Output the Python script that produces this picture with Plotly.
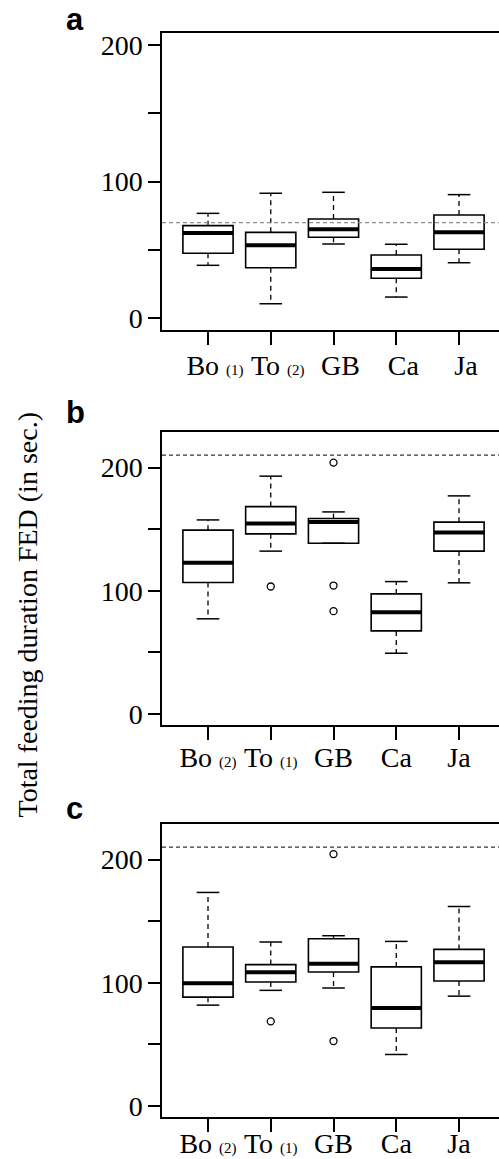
import plotly.graph_objects as go

# ---------------- data ----------------
positions = [1, 2, 3, 4, 5]
tick_labels_a = ["Bo <span style='font-size:15px'>(1)</span>",
                 "To <span style='font-size:15px'>(2)</span>", "GB", "Ca", "Ja"]
tick_labels_bc = ["Bo <span style='font-size:15px'>(2)</span>",
                  "To <span style='font-size:15px'>(1)</span>", "GB", "Ca", "Ja"]
y_tick_vals = [0, 50, 100, 150, 200]
y_tick_text = ["0", "", "100", "", "200"]

# panel a
a_lower = [38.8, 10.7, 54.4, 15.6, 40.7]
a_q1 = [47.6, 37.0, 59.3, 29.3, 50.5]
a_med = [62.4, 53.4, 65.1, 36.1, 62.9]
a_q3 = [67.8, 62.9, 72.7, 46.3, 75.6]
a_upper = [76.8, 91.5, 92.2, 54.2, 90.5]
a_out_x = []
a_out_y = []
a_ref = 70

# panel b
b_lower = [77.3, 132.2, 138.6, 49.4, 106.5]
b_q1 = [106.7, 146.2, 138.6, 67.5, 132.2]
b_med = [122.7, 154.6, 155.9, 82.7, 147.3]
b_q3 = [149.2, 168.3, 158.6, 97.5, 155.7]
b_upper = [157.5, 193.0, 164.0, 107.5, 177.0]
b_out_x = [2, 3, 3, 3]
b_out_y = [103.5, 204.0, 104.3, 83.5]
b_ref = 210

# panel c
c_lower = [81.9, 93.9, 95.8, 41.9, 89.2]
c_q1 = [88.4, 100.7, 108.8, 63.4, 101.5]
c_med = [99.6, 108.6, 115.4, 79.5, 116.7]
c_q3 = [129.0, 114.8, 135.8, 112.9, 127.1]
c_upper = [173.3, 133.1, 138.2, 133.6, 161.9]
c_out_x = [2, 3, 3]
c_out_y = [68.8, 204.4, 52.8]
c_ref = 210

# ---------------- layout constants ----------------
W, H = 499, 1159
BOXW = 0.8
CAPW = 0.36
SERIF = "Liberation Serif"
SANS = "Liberation Sans"

panels = [
    dict(lower=a_lower, q1=a_q1, med=a_med, q3=a_q3, upper=a_upper,
         ox=a_out_x, oy=a_out_y, ref=a_ref, refcolor="#8f8f8f",
         yrange=[-8.5, 208.7], top=33, bottom=330, labels=tick_labels_a,
         shift=7, standoff=-3, letter="a", letter_y=19),
    dict(lower=b_lower, q1=b_q1, med=b_med, q3=b_q3, upper=b_upper,
         ox=b_out_x, oy=b_out_y, ref=b_ref, refcolor="#333333",
         yrange=[-8.8, 228.8], top=432, bottom=725, labels=tick_labels_bc,
         shift=0, standoff=-6, letter="b", letter_y=412),
    dict(lower=c_lower, q1=c_q1, med=c_med, q3=c_q3, upper=c_upper,
         ox=c_out_x, oy=c_out_y, ref=c_ref, refcolor="#333333",
         yrange=[-8.8, 228.8], top=824, bottom=1117, labels=tick_labels_bc,
         shift=0, standoff=-12, letter="c", letter_y=808),
]

fig = go.Figure()
shapes = []
annotations = []
layout = {}

for i, p in enumerate(panels):
    n = "" if i == 0 else str(i + 1)
    xa, ya = "x" + n, "y" + n

    # box bodies
    fig.add_trace(go.Box(
        x=positions, q1=p["q1"], median=p["med"], q3=p["q3"],
        lowerfence=p["q1"], upperfence=p["q3"], width=BOXW,
        whiskerwidth=0, fillcolor="white", boxpoints=False,
        line=dict(color="black", width=1.6), xaxis=xa, yaxis=ya,
        hoverinfo="skip"))

    # whiskers (dashed)
    wx, wy = [], []
    for pos, lo, q1, q3, up in zip(positions, p["lower"], p["q1"], p["q3"], p["upper"]):
        wx += [pos, pos, None, pos, pos, None]
        wy += [q3, up, None, q1, lo, None]
    fig.add_trace(go.Scatter(x=wx, y=wy, mode="lines", xaxis=xa, yaxis=ya,
                             line=dict(color="black", width=1.3, dash="5px,4px"),
                             hoverinfo="skip"))

    # staples
    sx, sy = [], []
    for pos, lo, up in zip(positions, p["lower"], p["upper"]):
        sx += [pos - CAPW / 2, pos + CAPW / 2, None, pos - CAPW / 2, pos + CAPW / 2, None]
        sy += [up, up, None, lo, lo, None]
    fig.add_trace(go.Scatter(x=sx, y=sy, mode="lines", xaxis=xa, yaxis=ya,
                             line=dict(color="black", width=1.5), hoverinfo="skip"))

    # medians (thick)
    mx, my = [], []
    for pos, m in zip(positions, p["med"]):
        mx += [pos - BOXW / 2, pos + BOXW / 2, None]
        my += [m, m, None]
    fig.add_trace(go.Scatter(x=mx, y=my, mode="lines", xaxis=xa, yaxis=ya,
                             line=dict(color="black", width=4), hoverinfo="skip"))

    # outliers
    if p["ox"]:
        fig.add_trace(go.Scatter(x=p["ox"], y=p["oy"], mode="markers", xaxis=xa, yaxis=ya,
                                 marker=dict(symbol="circle-open", size=7,
                                             color="black", line=dict(width=1.3)),
                                 hoverinfo="skip"))

    # reference line
    shapes.append(dict(type="line", xref=xa + " domain", x0=0, x1=1,
                       yref=ya, y0=p["ref"], y1=p["ref"], layer="above",
                       line=dict(color=p["refcolor"], width=1.3, dash="4px,3px")))

    dom = [1 - p["bottom"] / H, 1 - p["top"] / H]
    layout["xaxis" + n] = dict(
        domain=[162 / W, 1], range=[0.267, 5.637], anchor=ya,
        showline=True, mirror=True, linecolor="black", linewidth=1.5,
        ticks="outside", ticklen=13, tickwidth=1.5, tickcolor="black",
        tickvals=positions, ticktext=p["labels"], ticklabelshift=p["shift"],
        ticklabelstandoff=p["standoff"],
        tickfont=dict(family=SERIF, size=28, color="black"),
        showgrid=False, zeroline=False, automargin=False, fixedrange=True)
    layout["yaxis" + n] = dict(
        domain=dom, range=p["yrange"], anchor=xa,
        showline=True, mirror=False, linecolor="black", linewidth=1.5,
        ticks="outside", ticklen=12, tickwidth=1.5, tickcolor="black",
        tickvals=y_tick_vals, ticktext=y_tick_text,
        tickfont=dict(family=SERIF, size=28, color="black"),
        showgrid=False, zeroline=False, automargin=False, fixedrange=True)

    annotations.append(dict(text="<b>%s</b>" % p["letter"], xref="paper", yref="paper",
                            x=64 / W, y=1 - p["letter_y"] / H, xanchor="left",
                            yanchor="middle", showarrow=False,
                            font=dict(family=SANS, size=31, color="black")))

annotations.append(dict(text="Total feeding duration FED (in sec.)", xref="paper",
                        yref="paper", x=27 / W, y=1 - 615.5 / H, textangle=-90,
                        xanchor="center", yanchor="middle", showarrow=False,
                        font=dict(family=SERIF, size=28, color="black")))

fig.update_layout(
    width=W, height=H, margin=dict(l=0, r=0, t=0, b=0),
    paper_bgcolor="white", plot_bgcolor="white", showlegend=False,
    shapes=shapes, annotations=annotations, **layout)

fig.write_html("out.html", config={"displayModeBar": False},
               post_script="document.body.style.margin='0px';"
                           "document.body.style.overflow='hidden';")
